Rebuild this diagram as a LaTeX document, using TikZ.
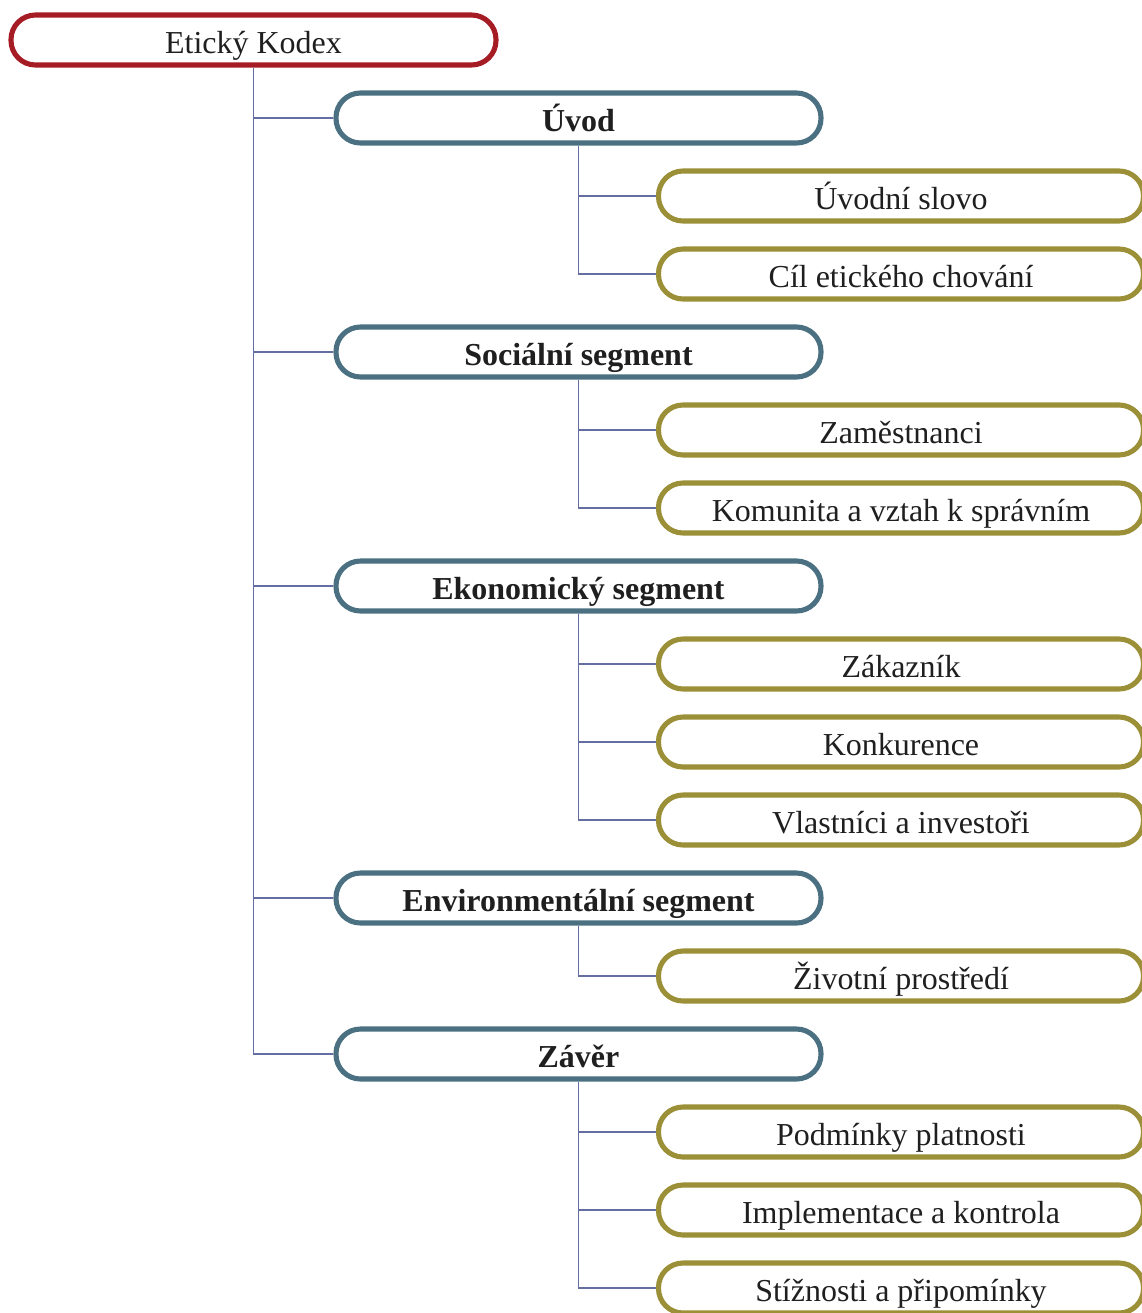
\documentclass[tikz,border=0pt]{standalone}
\usepackage{fontspec}
\setmainfont{Liberation Serif}
\usetikzlibrary{positioning}
\definecolor{rootc}{HTML}{A61C24}
\definecolor{secc}{HTML}{4A7082}
\definecolor{itemc}{HTML}{9B9037}
\definecolor{linkc}{HTML}{646EA0}
\tikzset{
  boxbase/.style={line width=2.9pt, fill=white, rounded corners=0.49cm,
    minimum width=9.7cm, minimum height=1.0cm, inner sep=0pt,
    text height=15pt, text depth=0pt, font=\fontsize{18.2}{21}\selectfont},
  rootbox/.style={boxbase, draw=rootc, text=black!88},
  secbox/.style={boxbase, draw=secc, font=\fontsize{18.2}{21}\selectfont\bfseries, text=black!88},
  itembox/.style={boxbase, draw=itemc, text=black!88},
  branch/.style={draw=linkc, line width=1.1pt}
}

\begin{document}
\begin{tikzpicture}

  \useasboundingbox (0,0) rectangle (22.84,-26.26);

  % ---- Root ----------------------------------------------------------------
  \node[rootbox] (kodex) at (5.07, -0.80) {Etický Kodex};

  % ---- Sections ------------------------------------------------------------
  \node[secbox] (uvod)    at (11.57,  -2.36) {Úvod};
  \node[secbox] (social)  at (11.57,  -7.04) {Sociální segment};
  \node[secbox] (econ)    at (11.57, -11.72) {Ekonomický segment};
  \node[secbox] (environ) at (11.57, -17.96) {Environmentální segment};
  \node[secbox] (zaver)   at (11.57, -21.08) {Závěr};

  % ---- Items ---------------------------------------------------------------
  \node[itembox] (slovo)     at (18.02,  -3.92) {Úvodní slovo};
  \node[itembox] (cil)       at (18.02,  -5.48) {Cíl etického chování};
  \node[itembox] (zamest)    at (18.02,  -8.60) {Zaměstnanci};
  \node[itembox] (komunita)  at (18.02, -10.16) {Komunita a vztah k správním};
  \node[itembox] (zakaznik)  at (18.02, -13.28) {Zákazník};
  \node[itembox] (konkur)    at (18.02, -14.84) {Konkurence};
  \node[itembox] (vlastnici) at (18.02, -16.40) {Vlastníci a investoři};
  \node[itembox] (prostredi) at (18.02, -19.52) {Životní prostředí};
  \node[itembox] (platnost)  at (18.02, -22.64) {Podmínky platnosti};
  \node[itembox] (implement) at (18.02, -24.20) {Implementace a kontrola};
  \node[itembox] (stiznosti) at (18.02, -25.76) {Stížnosti a připomínky};

  % ---- Connectors ----------------------------------------------------------
  \draw[branch] (kodex.south) |- (uvod.west);
  \draw[branch] (kodex.south) |- (social.west);
  \draw[branch] (kodex.south) |- (econ.west);
  \draw[branch] (kodex.south) |- (environ.west);
  \draw[branch] (kodex.south) |- (zaver.west);

  \draw[branch] (uvod.south) |- (slovo.west);
  \draw[branch] (uvod.south) |- (cil.west);
  \draw[branch] (social.south) |- (zamest.west);
  \draw[branch] (social.south) |- (komunita.west);
  \draw[branch] (econ.south) |- (zakaznik.west);
  \draw[branch] (econ.south) |- (konkur.west);
  \draw[branch] (econ.south) |- (vlastnici.west);
  \draw[branch] (environ.south) |- (prostredi.west);
  \draw[branch] (zaver.south) |- (platnost.west);
  \draw[branch] (zaver.south) |- (implement.west);
  \draw[branch] (zaver.south) |- (stiznosti.west);

\end{tikzpicture}
\end{document}
